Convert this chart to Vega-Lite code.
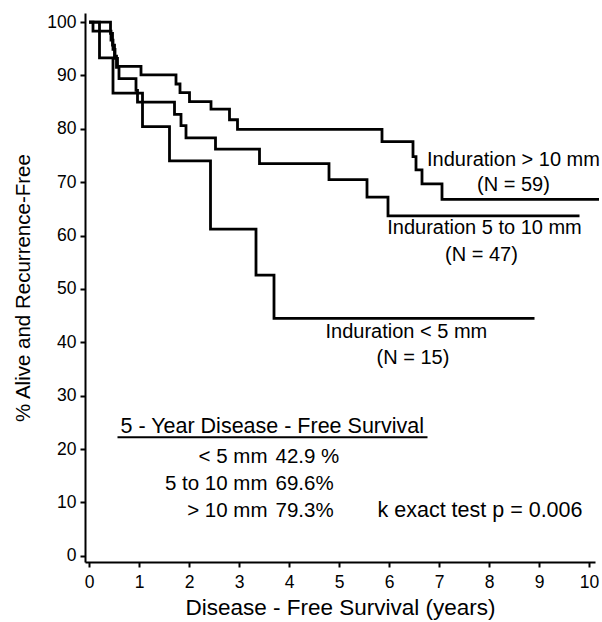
{
  "$schema": "https://vega.github.io/schema/vega-lite/v6.json",
  "width": 510,
  "height": 549,
  "autosize": {"type": "none"},
  "padding": {"left": 85, "top": 13, "right": 7, "bottom": 60},
  "background": "white",
  "config": {
    "view": {"stroke": null},
    "axis": {
      "grid": false,
      "domainColor": "black",
      "domainWidth": 2,
      "tickColor": "black",
      "tickWidth": 2,
      "tickSize": 5,
      "labelColor": "black",
      "labelFont": "Liberation Sans",
      "labelFontSize": 17.5,
      "titleFont": "Liberation Sans",
      "titleFontWeight": "normal",
      "titleColor": "black"
    },
    "text": {"font": "Liberation Sans", "fontSize": 20, "color": "black"}
  },
  "datasets": {
    "curves": [
      {"group": "lt5", "t": 0, "s": 100},
      {"group": "lt5", "t": 0.21, "s": 93.3},
      {"group": "lt5", "t": 0.48, "s": 86.7},
      {"group": "lt5", "t": 1.07, "s": 80.4},
      {"group": "lt5", "t": 1.61, "s": 74.0},
      {"group": "lt5", "t": 2.43, "s": 61.2},
      {"group": "lt5", "t": 3.34, "s": 52.6},
      {"group": "lt5", "t": 3.70, "s": 44.5},
      {"group": "lt5", "t": 8.91, "s": 44.5},
      {"group": "mid", "t": 0, "s": 100},
      {"group": "mid", "t": 0.41, "s": 100},
      {"group": "mid", "t": 0.43, "s": 97.9},
      {"group": "mid", "t": 0.47, "s": 95.7},
      {"group": "mid", "t": 0.51, "s": 93.6},
      {"group": "mid", "t": 0.55, "s": 91.5},
      {"group": "mid", "t": 0.60, "s": 89.4},
      {"group": "mid", "t": 0.94, "s": 87.2},
      {"group": "mid", "t": 0.97, "s": 85.0},
      {"group": "mid", "t": 1.71, "s": 82.7},
      {"group": "mid", "t": 1.84, "s": 80.6},
      {"group": "mid", "t": 1.94, "s": 78.3},
      {"group": "mid", "t": 2.53, "s": 76.2},
      {"group": "mid", "t": 3.41, "s": 73.5},
      {"group": "mid", "t": 4.80, "s": 70.5},
      {"group": "mid", "t": 5.56, "s": 67.2},
      {"group": "mid", "t": 5.98, "s": 63.7},
      {"group": "mid", "t": 9.81, "s": 63.7},
      {"group": "gt10", "t": 0, "s": 100},
      {"group": "gt10", "t": 0.08, "s": 98.3},
      {"group": "gt10", "t": 0.44, "s": 96.6},
      {"group": "gt10", "t": 0.48, "s": 94.9},
      {"group": "gt10", "t": 0.52, "s": 93.2},
      {"group": "gt10", "t": 0.57, "s": 91.7},
      {"group": "gt10", "t": 1.04, "s": 90.1},
      {"group": "gt10", "t": 1.74, "s": 88.4},
      {"group": "gt10", "t": 1.82, "s": 86.8},
      {"group": "gt10", "t": 2.01, "s": 85.1},
      {"group": "gt10", "t": 2.44, "s": 83.7},
      {"group": "gt10", "t": 2.81, "s": 81.7},
      {"group": "gt10", "t": 2.97, "s": 79.9},
      {"group": "gt10", "t": 5.86, "s": 77.6},
      {"group": "gt10", "t": 6.48, "s": 74.8},
      {"group": "gt10", "t": 6.54, "s": 72.3},
      {"group": "gt10", "t": 6.66, "s": 69.7},
      {"group": "gt10", "t": 7.06, "s": 66.8},
      {"group": "gt10", "t": 10.2, "s": 66.8}
    ],
    "notes": [
      {"text": "Induration > 10 mm", "t": 8.49, "s": 74.2, "pos": "c"},
      {"text": "(N = 59)", "t": 8.49, "s": 69.5, "pos": "c"},
      {"text": "Induration 5 to 10 mm", "t": 7.91, "s": 61.4, "pos": "c"},
      {"text": "(N = 47)", "t": 7.85, "s": 56.3, "pos": "c"},
      {"text": "Induration < 5 mm", "t": 4.73, "s": 41.9, "pos": "l"},
      {"text": "(N = 15)", "t": 6.48, "s": 37.0, "pos": "c"},
      {"text": "5 - Year Disease - Free Survival", "t": 0.63, "s": 24.2, "pos": "t"},
      {"text": "42.9 %", "t": 3.73, "s": 18.5, "pos": "l2"},
      {"text": "69.6%", "t": 3.73, "s": 13.4, "pos": "l2"},
      {"text": "79.3%", "t": 3.73, "s": 8.4, "pos": "l2"},
      {"text": "k exact test p = 0.006", "t": 5.77, "s": 8.4, "pos": "t"},
      {"text": "< 5 mm", "t": 3.57, "s": 18.5, "pos": "r"},
      {"text": "5 to 10 mm", "t": 3.57, "s": 13.4, "pos": "r"},
      {"text": "> 10 mm", "t": 3.57, "s": 8.4, "pos": "r"}
    ],
    "underline": [
      {"t": 0.57, "t2": 6.77, "s": 22.2}
    ]
  },
  "layer": [
    {
      "data": {"name": "curves"},
      "mark": {"type": "line", "interpolate": "step-after", "color": "black", "strokeWidth": 2.8},
      "encoding": {
        "x": {
          "field": "t", "type": "quantitative",
          "scale": {"domain": [-0.08, 10.12], "nice": false, "zero": false},
          "axis": {"values": [0,1,2,3,4,5,6,7,8,9,10], "title": "Disease - Free Survival (years)", "titleFontSize": 22.5, "labelPadding": 6, "titlePadding": 6}
        },
        "y": {
          "field": "s", "type": "quantitative",
          "scale": {"domain": [-1.15, 101.7], "nice": false, "zero": false},
          "axis": {"values": [0,10,20,30,40,50,60,70,80,90,100], "title": "% Alive and Recurrence-Free", "titleFontSize": 20.5, "labelPadding": 4, "titlePadding": 13}
        },
        "detail": {"field": "group"}
      }
    },
    {
      "data": {"name": "underline"},
      "mark": {"type": "rule", "color": "black", "strokeWidth": 2},
      "encoding": {
        "x": {"field": "t", "type": "quantitative"},
        "x2": {"field": "t2"},
        "y": {"field": "s", "type": "quantitative"}
      }
    },
    {
      "data": {"name": "notes"},
      "transform": [{"filter": "datum.pos === 'c'"}],
      "mark": {"type": "text", "align": "center", "baseline": "middle"},
      "encoding": {
        "x": {"field": "t", "type": "quantitative"},
        "y": {"field": "s", "type": "quantitative"},
        "text": {"field": "text"}
      }
    },
    {
      "data": {"name": "notes"},
      "transform": [{"filter": "datum.pos === 'l'"}],
      "mark": {"type": "text", "align": "left", "baseline": "middle"},
      "encoding": {
        "x": {"field": "t", "type": "quantitative"},
        "y": {"field": "s", "type": "quantitative"},
        "text": {"field": "text"}
      }
    },
    {
      "data": {"name": "notes"},
      "transform": [{"filter": "datum.pos === 't'"}],
      "mark": {"type": "text", "align": "left", "baseline": "middle", "fontSize": 21.5},
      "encoding": {
        "x": {"field": "t", "type": "quantitative"},
        "y": {"field": "s", "type": "quantitative"},
        "text": {"field": "text"}
      }
    },
    {
      "data": {"name": "notes"},
      "transform": [{"filter": "datum.pos === 'l2'"}],
      "mark": {"type": "text", "align": "left", "baseline": "middle", "fontSize": 20.5},
      "encoding": {
        "x": {"field": "t", "type": "quantitative"},
        "y": {"field": "s", "type": "quantitative"},
        "text": {"field": "text"}
      }
    },
    {
      "data": {"name": "notes"},
      "transform": [{"filter": "datum.pos === 'r'"}],
      "mark": {"type": "text", "align": "right", "baseline": "middle", "fontSize": 20.5},
      "encoding": {
        "x": {"field": "t", "type": "quantitative"},
        "y": {"field": "s", "type": "quantitative"},
        "text": {"field": "text"}
      }
    }
  ]
}
